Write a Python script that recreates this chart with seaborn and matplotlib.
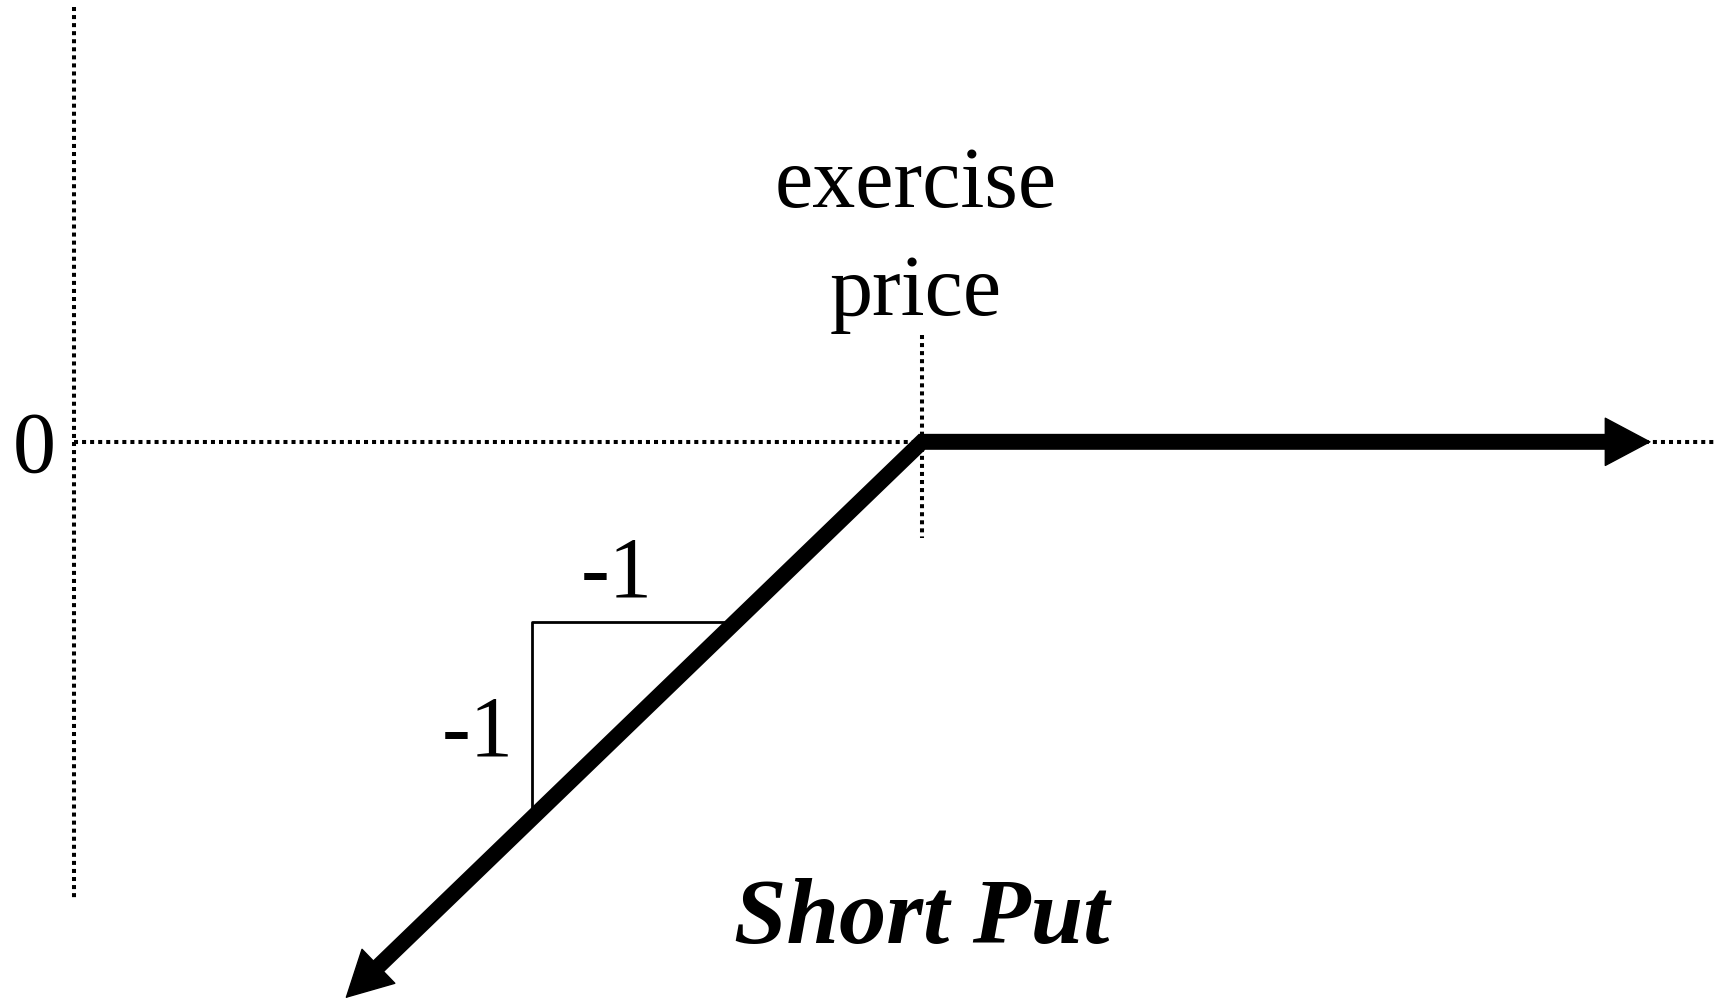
import numpy as np
import matplotlib
matplotlib.use("Agg")
import matplotlib.pyplot as plt
import seaborn as sns

sns.set_style("white")
plt.rcParams['font.family'] = ['Liberation Serif', 'DejaVu Serif']

# payoff of a short put, strike = 100
strike = 100
price = np.array([32, 100, 186])
payoff = np.minimum(price - strike, 0)

# dotted reference lines
yaxis_x = [0, 0]
yaxis_y = [53.1, -55.9]
zero_x = [0, 193.6]
zero_y = [0, 0]
strike_x = [strike, strike]
strike_y = [13.1, -11.7]

# slope triangle (corner, then legs to the payoff line)
tri_x = [78, 54, 54]
tri_y = [-22, -22, -46]

fig = plt.figure(figsize=(17.25, 9.99), dpi=100)
ax = fig.add_axes([0, 0, 1, 1])
ax.set_xlim(-8.73, 194.7)
ax.set_ylim(-68.1, 54.0)
ax.axis('off')

dots = (0, (1, 1))
for xs, ys in [(yaxis_x, yaxis_y), (zero_x, zero_y), (strike_x, strike_y)]:
    sns.lineplot(x=xs, y=ys, sort=False, estimator=None, color='black',
                 lw=2.9, linestyle=dots, ax=ax)
sns.lineplot(x=tri_x, y=tri_y, sort=False, estimator=None, color='black', lw=2, ax=ax)

# thick payoff line, stopped just inside the arrow heads
shaft_x = price.astype(float).copy()
shaft_x[0] += 2.6
shaft_x[-1] -= 3.5
shaft_y = np.minimum(shaft_x - strike, 0)
sns.lineplot(x=shaft_x, y=shaft_y, sort=False, estimator=None, color='black', lw=11.5,
             solid_joinstyle='miter', solid_capstyle='butt', ax=ax)

head = dict(arrowstyle='-|>,head_length=32,head_width=17', mutation_scale=1,
            lw=1, color='black', shrinkA=0, shrinkB=0)
ax.annotate('', xy=(price[0], payoff[0]), xytext=(shaft_x[0], shaft_y[0]), arrowprops=head)
ax.annotate('', xy=(price[-1], payoff[-1]), xytext=(shaft_x[-1], shaft_y[-1]), arrowprops=head)

txt = dict(color='black', ha='center', va='baseline')
ax.text(-4.7, -3.7, '0', fontsize=62, **txt)
ax.text(64.0, -18.9, '-1', fontsize=62, **txt)
ax.text(47.6, -38.3, '-1', fontsize=62, **txt)
ax.text(99.3, 28.7, 'exercise', fontsize=62, **txt)
ax.text(99.3, 15.5, 'price', fontsize=62, **txt)
ax.text(100, -61.2, 'Short Put', fontsize=68, fontweight='bold', fontstyle='italic', **txt)

fig.savefig('out.png', dpi=100)
